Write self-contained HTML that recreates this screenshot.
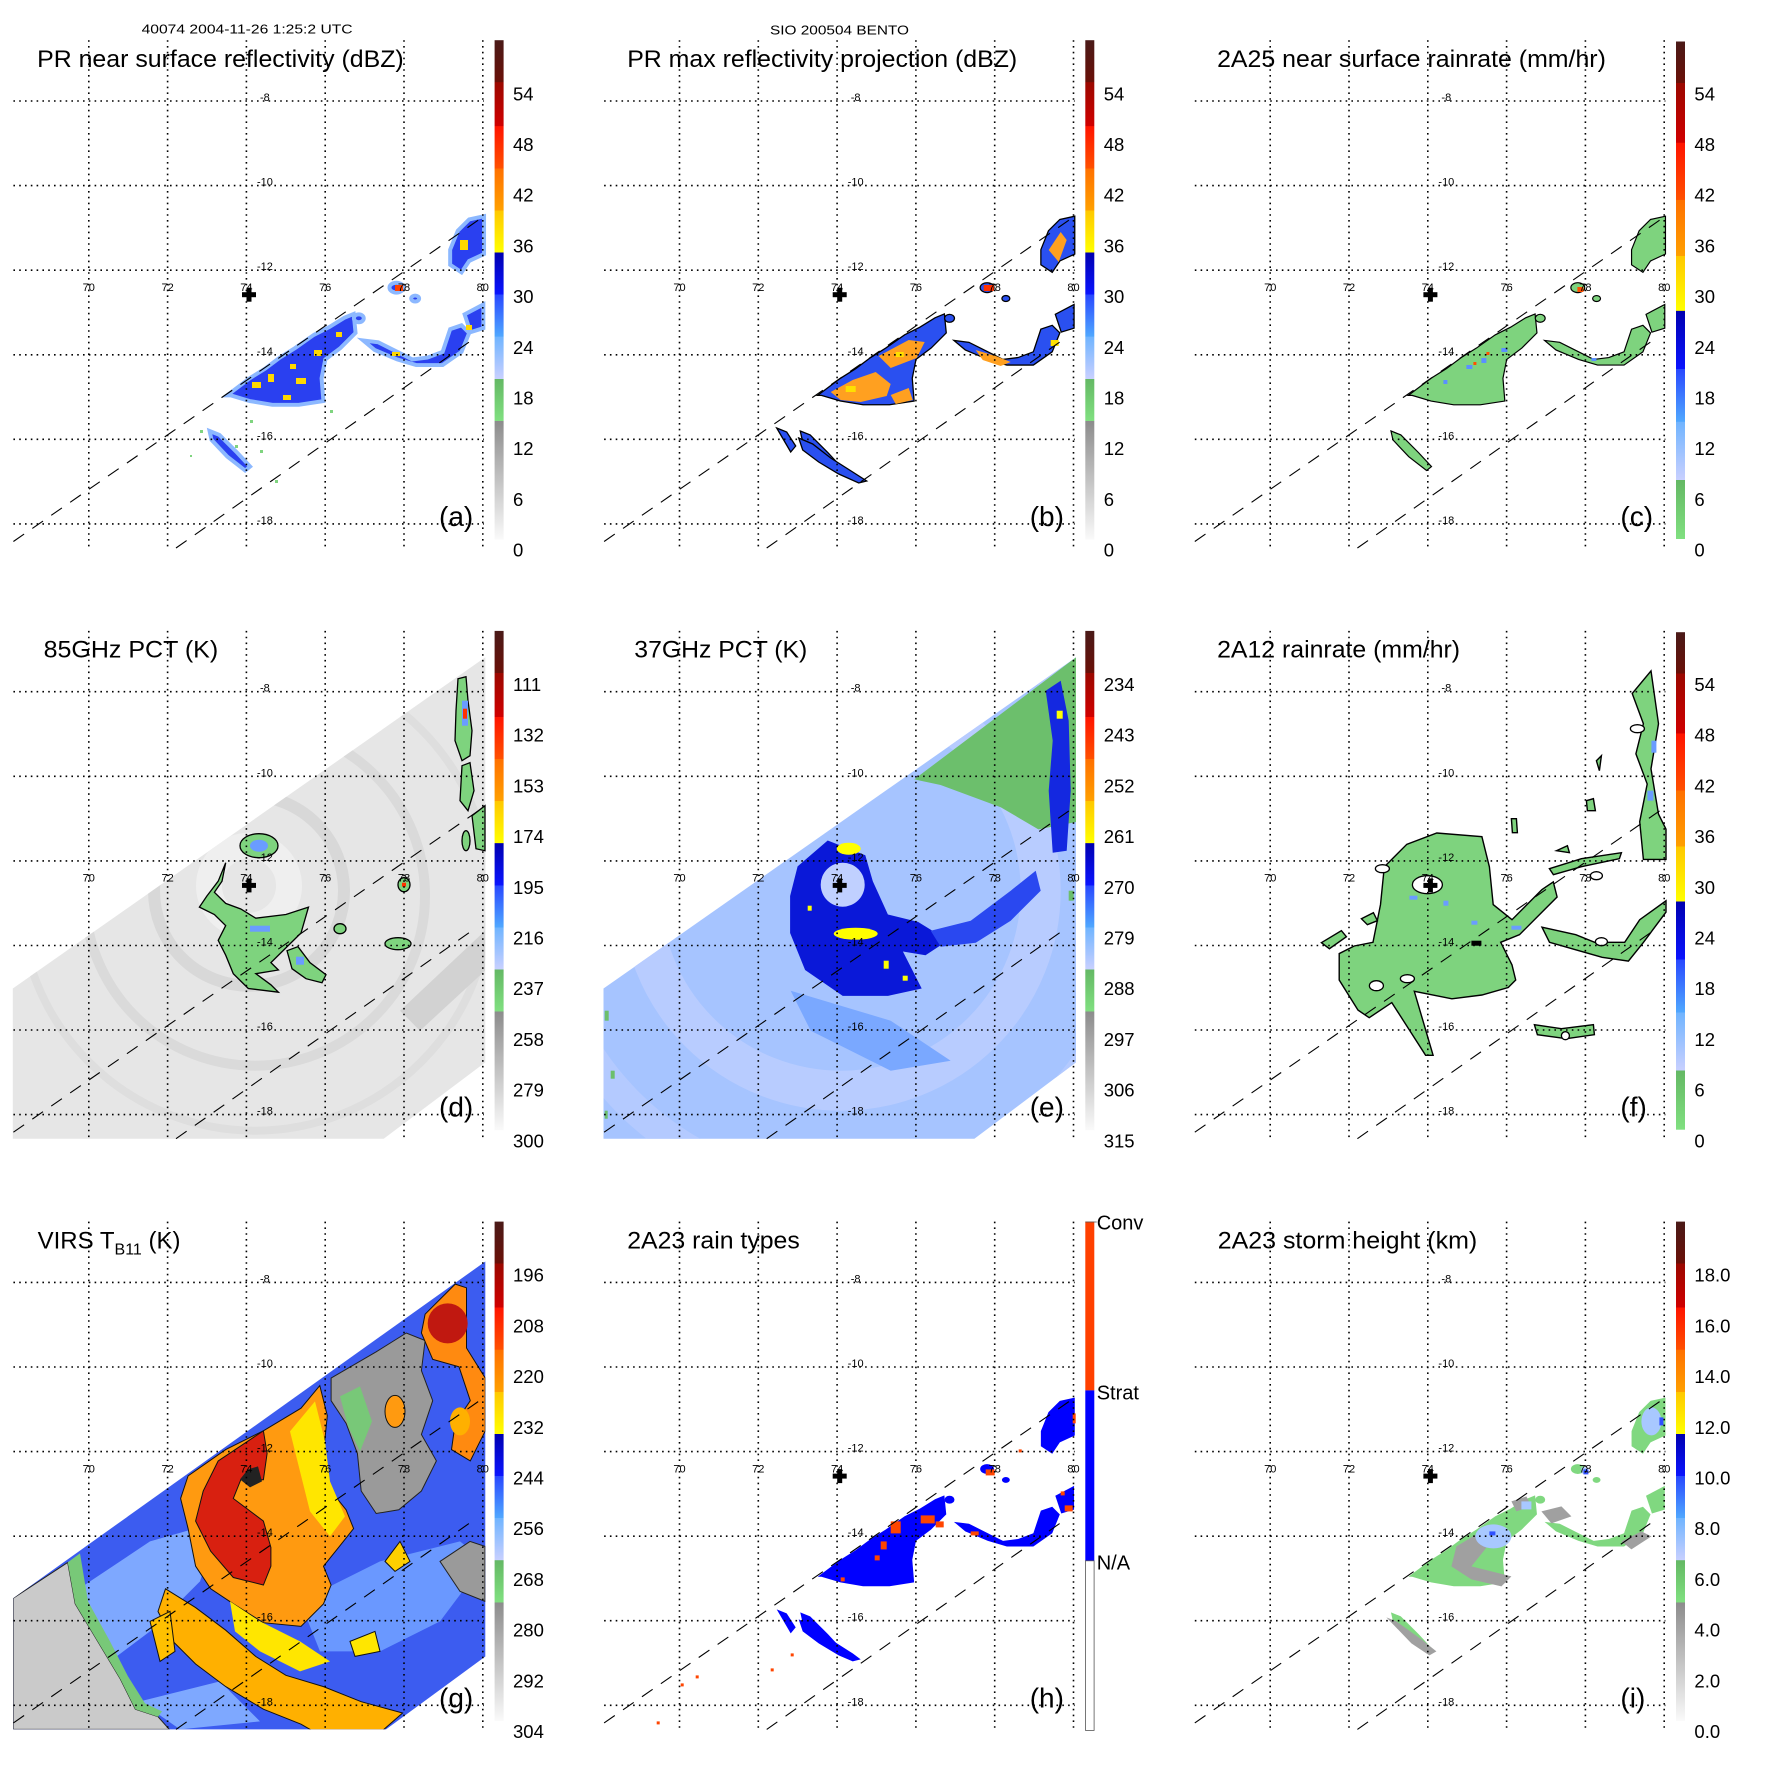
<!DOCTYPE html>
<html><head><meta charset="utf-8"><style>
html,body{margin:0;padding:0;background:#fff;}
svg{display:block;font-family:"Liberation Sans",Arial,sans-serif;}
.ll{font-size:11px;fill:#000;}
.lo{font-size:11px;fill:#000;text-anchor:middle;}
.ti{font-size:24px;fill:#000;}
.pl{font-size:28px;fill:#000;}
.cb{font-size:18.5px;fill:#000;}
</style></head><body>
<svg width="1771" height="1771" viewBox="0 0 1771 1771" xmlns="http://www.w3.org/2000/svg">
<defs>
<linearGradient id="cbA" x1="0" y1="0" x2="0" y2="1">
<stop offset="0" stop-color="#4a1a18"/><stop offset="0.084" stop-color="#6a1008"/>
<stop offset="0.0843" stop-color="#9a0800"/><stop offset="0.172" stop-color="#d00000"/>
<stop offset="0.1724" stop-color="#ff1400"/><stop offset="0.2565" stop-color="#ff5000"/>
<stop offset="0.2567" stop-color="#ff7000"/><stop offset="0.3408" stop-color="#ffa000"/>
<stop offset="0.341" stop-color="#ffc800"/><stop offset="0.425" stop-color="#ffff00"/>
<stop offset="0.4253" stop-color="#0000b0"/><stop offset="0.5093" stop-color="#0a14ff"/>
<stop offset="0.5096" stop-color="#2848ff"/><stop offset="0.5936" stop-color="#50a8ff"/>
<stop offset="0.5939" stop-color="#70b4ff"/><stop offset="0.678" stop-color="#c8d0ff"/>
<stop offset="0.6782" stop-color="#64b864"/><stop offset="0.7622" stop-color="#80e080"/>
<stop offset="0.7625" stop-color="#8c8c8c"/><stop offset="1" stop-color="#fafafa"/>
</linearGradient>
<linearGradient id="cbC" x1="0" y1="0" x2="0" y2="1">
<stop offset="0" stop-color="#4a1a18"/><stop offset="0.083" stop-color="#6a1008"/>
<stop offset="0.0834" stop-color="#9a0800"/><stop offset="0.203" stop-color="#d00000"/>
<stop offset="0.204" stop-color="#ff1400"/><stop offset="0.318" stop-color="#ff5000"/>
<stop offset="0.3186" stop-color="#ff7000"/><stop offset="0.431" stop-color="#ffa000"/>
<stop offset="0.4312" stop-color="#ffc800"/><stop offset="0.541" stop-color="#ffff00"/>
<stop offset="0.5417" stop-color="#0000b0"/><stop offset="0.658" stop-color="#0a14ff"/>
<stop offset="0.6583" stop-color="#2848ff"/><stop offset="0.764" stop-color="#50a8ff"/>
<stop offset="0.7648" stop-color="#70b4ff"/><stop offset="0.881" stop-color="#c8d0ff"/>
<stop offset="0.8814" stop-color="#64b864"/><stop offset="1" stop-color="#80e080"/>
</linearGradient>
<g id="grid" stroke="#000" stroke-width="1.6" stroke-dasharray="1.6,4.2" fill="none">
<line x1="88.8" y1="40.2" x2="88.8" y2="548"/><line x1="167.6" y1="40.2" x2="167.6" y2="548"/>
<line x1="246.4" y1="40.2" x2="246.4" y2="548"/><line x1="325.2" y1="40.2" x2="325.2" y2="548"/>
<line x1="404" y1="40.2" x2="404" y2="548"/><line x1="482.8" y1="40.2" x2="482.8" y2="548"/>
<line x1="13.4" y1="101" x2="484" y2="101"/><line x1="13.4" y1="185.6" x2="484" y2="185.6"/>
<line x1="13.4" y1="270.2" x2="484" y2="270.2"/><line x1="13.4" y1="354.8" x2="484" y2="354.8"/>
<line x1="13.4" y1="439.3" x2="484" y2="439.3"/><line x1="13.4" y1="523.9" x2="484" y2="523.9"/>
</g>
<g id="dash" stroke="#000" stroke-width="1.1" stroke-dasharray="13,10" fill="none">
<line x1="13.4" y1="541.5" x2="484" y2="216.2"/>
<line x1="176" y1="548" x2="476.5" y2="336.8"/>
</g>
<g id="cross" fill="#000"><rect x="242" y="292.2" width="14" height="5"/><rect x="246.5" y="287.7" width="5" height="14"/></g>
<g id="pr" transform="scale(0.9885)">
<path d="M229.6,400 L252.6,382.7 267.9,373.1 283.2,361.7 298.5,352.1 317.6,338.7 333,331 348.3,321.5 357.8,317.6 359.7,336.8 344.4,352.1 329.1,363.6 325.3,382.7 327.2,405.7 302.3,409.5 275.5,409.5 252.6,405.7 233.4,400 Z"/>
<path d="M367.4,344.4 L382.7,346.3 401.8,355.9 417.1,363.6 432.4,361.7 447.8,355.9 455.4,333 466.9,329.1 474.6,336.8 466.9,355.9 447.8,369.3 421,369.3 401.8,363.6 378.9,354 Z"/>
<path d="M455.4,252.6 L463.1,233.4 474.6,222 489.7,218.7 489.7,257 474.6,264 466.9,275.5 455.4,267.9 Z"/>
<path d="M470,318 L489,308 489,332 476,336 Z"/>
<ellipse cx="401" cy="291" rx="7" ry="5"/>
<ellipse cx="420" cy="302" rx="4" ry="3"/>
<ellipse cx="363" cy="322" rx="5" ry="4"/>
<path d="M212,436 L222,440 240,458 253,472 248,476 230,462 214,445 Z"/>
</g>
</defs>

<text x="141.6" y="33.7" font-size="12.8" textLength="211" lengthAdjust="spacingAndGlyphs">40074 2004-11-26 1:25:2 UTC</text>
<text x="770" y="34.7" font-size="12.8" textLength="139" lengthAdjust="spacingAndGlyphs">SIO 200504 BENTO</text>

<!-- PANEL A -->
<g transform="translate(0,0)">
<g fill="#2a40f0" stroke="#8cb8ff" stroke-width="4"><use href="#pr"/></g>
<g fill="#ffd800">
<rect x="252" y="382" width="9" height="6"/><rect x="268" y="374" width="6" height="8"/><rect x="296" y="378" width="10" height="6"/><rect x="314" y="350" width="8" height="6"/><rect x="290" y="364" width="6" height="5"/><rect x="336" y="332" width="6" height="5"/><rect x="283" y="395" width="8" height="5"/><rect x="460" y="240" width="8" height="10"/><rect x="392" y="352" width="8" height="4"/><rect x="466" y="325" width="6" height="5"/>
</g>
<rect x="395" y="285" width="8" height="6" fill="#ff4000"/>
<g fill="#7fd47f"><rect x="200" y="430" width="3" height="3"/><rect x="235" y="445" width="3" height="3"/><rect x="260" y="450" width="3" height="3"/><rect x="190" y="455" width="2" height="2"/><rect x="275" y="480" width="3" height="3"/><rect x="250" y="420" width="3" height="3"/><rect x="330" y="410" width="3" height="3"/></g>
<use href="#grid"/><use href="#dash"/><use href="#cross"/>
</g>

<!-- PANEL B -->
<g transform="translate(590.7,0)">
<g fill="#2a50f0" stroke="#000" stroke-width="1.3"><use href="#pr"/>
<path d="M186,428 L196,432 205,446 200,452 Z"/>
<path d="M208,438 L222,444 240,458 262,472 276,481 268,483 248,474 228,462 212,450 Z"/></g>
<g fill="#ffa020">
<path d="M240,392 L262,380 285,372 300,384 296,396 270,402 250,400 Z"/>
<path d="M288,356 L318,340 334,342 326,358 300,368 Z"/>
<path d="M385,350 L405,356 420,362 410,366 392,360 Z"/>
<path d="M458,250 L470,232 476,240 468,262 Z"/>
<path d="M300,395 L318,388 322,400 305,404 Z"/>
</g>
<g fill="#ffe000"><rect x="255" y="386" width="10" height="6"/><rect x="305" y="352" width="8" height="5"/><rect x="460" y="340" width="8" height="6"/></g>
<rect x="393" y="285" width="10" height="6" fill="#ff3000"/>
<use href="#grid"/><use href="#dash"/><use href="#cross"/>
</g>

<!-- PANEL C -->
<g transform="translate(1181.4,0)">
<g fill="#7ed37e" stroke="#000" stroke-width="1.2"><use href="#pr"/></g>
<g fill="#5a90ff"><rect x="285" y="365" width="6" height="4"/><rect x="300" y="358" width="5" height="5"/><rect x="320" y="348" width="6" height="4"/><rect x="410" y="358" width="5" height="3"/><rect x="262" y="380" width="4" height="4"/></g>
<g fill="#ff5000"><rect x="292" y="362" width="3" height="3"/><rect x="396" y="287" width="6" height="5"/><rect x="305" y="352" width="3" height="3"/></g>
<use href="#grid"/><use href="#dash"/><use href="#cross"/>
</g>

<!-- PANEL D -->
<g transform="translate(0,590.7)">
<clipPath id="swd"><polygon points="12.8,397.8 485.3,66.6 485.3,471.7 383.7,548 12.8,548"/></clipPath>
<polygon points="12.8,397.8 485.3,66.6 485.3,471.7 383.7,548 12.8,548" fill="#e6e6e6"/>
<g clip-path="url(#swd)" fill="none">
<circle cx="249" cy="295" r="40" stroke="#efefef" stroke-width="26"/>
<circle cx="249" cy="300" r="95" stroke="#d8d8d8" stroke-width="12"/>
<circle cx="255" cy="305" r="170" stroke="#dadada" stroke-width="10"/>
<circle cx="255" cy="305" r="235" stroke="#dedede" stroke-width="8"/>
<path d="M400,420 L485,340 485,380 420,440 Z" fill="#d2d2d2"/>
</g>
<g fill="#7ed37e" stroke="#000" stroke-width="1.3">
<path d="M225.7,272 L218.2,290.5 206.9,305.3 199.4,316.4 214.4,323.8 225.7,334.9 218.2,349.7 225.7,364.5 233.3,383 248.3,397.8 278.4,401.5 270.9,394.1 255.8,383 278.4,379.3 270.9,371.9 301,342.3 308.5,316.4 285.9,323.8 255.8,327.5 240.8,318.3 225.7,312.7 214.4,301.6 222,290.5 Z"/>
<ellipse cx="259" cy="255" rx="19" ry="12"/>
<path d="M287,360 L298,356 310,372 326,384 322,392 306,388 292,378 Z"/>
<ellipse cx="398" cy="353" rx="13" ry="6"/>
<ellipse cx="340" cy="338" rx="6" ry="5"/>
<path d="M458,88 L466,86 468,110 472,140 470,165 462,170 455,150 456,120 Z"/>
<path d="M462,175 L470,172 474,200 468,220 460,210 Z"/>
<path d="M472,225 L485,215 485,260 476,258 Z"/>
<ellipse cx="404" cy="294" rx="6" ry="7"/>
<ellipse cx="466" cy="250" rx="4" ry="10"/>
</g>
<g fill="#6a9cff"><ellipse cx="259" cy="255" rx="9" ry="6"/><rect x="250" y="335" width="20" height="6"/><rect x="462" y="110" width="6" height="25"/><rect x="296" y="366" width="8" height="8"/></g>
<g fill="#ff3000"><rect x="463" y="118" width="4" height="10"/><rect x="402" y="292" width="4" height="4"/></g>
<use href="#grid"/><use href="#dash"/><use href="#cross"/>
</g>

<!-- PANEL E -->
<g transform="translate(590.7,590.7)">
<clipPath id="swe"><polygon points="12.8,397.8 485.3,66.6 485.3,471.7 383.7,548 12.8,548"/></clipPath>
<polygon points="12.8,397.8 485.3,66.6 485.3,471.7 383.7,548 12.8,548" fill="#a6c4ff"/>
<g clip-path="url(#swe)">
<circle cx="250" cy="300" r="200" fill="none" stroke="#b8ccff" stroke-width="40"/>
<circle cx="250" cy="300" r="300" fill="none" stroke="#b4caff" stroke-width="30"/>
<path d="M323.5,188.7 L485.3,66.6 485.3,231.3 447.7,238.7 410,216.5 349.9,194.3 Z" fill="#6cbf6c"/>
<path d="M206.9,275.7 L237,249.8 274.6,264.6 282.1,290.5 297.2,323.8 327.3,331.2 357.4,349.7 334.8,364.5 312.2,360.8 331,397.8 297.2,405.2 252,405.2 214.4,379.3 199.4,342.3 199.4,305.3 Z" fill="#0a18d8"/>
<circle cx="252" cy="294" r="22" fill="#c0d0ff"/>
<path d="M455,100 L470,90 478,130 480,200 476,260 462,262 458,200 462,150 Z" fill="#1428e0"/>
<path d="M340,340 L380,330 420,300 445,280 450,300 420,330 385,352 350,356 Z" fill="#2a48f0"/>
<path d="M200,400 L300,430 360,470 300,480 220,440 Z" fill="#7aa8ff"/>
</g>
<g fill="#ffff00"><ellipse cx="265" cy="343" rx="22" ry="6"/><ellipse cx="258" cy="258" rx="12" ry="6"/><rect x="466" y="120" width="6" height="8"/><rect x="293" y="370" width="5" height="8"/><rect x="312" y="385" width="5" height="5"/><rect x="217" y="315" width="4" height="5"/></g>
<g fill="#6cbf6c"><rect x="14" y="420" width="4" height="10"/><rect x="20" y="480" width="4" height="8"/><rect x="14" y="520" width="3" height="8"/><rect x="478" y="300" width="5" height="10"/></g>
<use href="#grid"/><use href="#dash"/><use href="#cross"/>
</g>

<!-- PANEL F -->
<g transform="translate(1181.4,590.7)">
<g fill="#7ed37e" stroke="#000" stroke-width="1.4">
<path d="M202.9,276.2 L225.4,253.6 255.4,242.3 300.5,246 308,276.2 311.8,313.9 330.6,329 360.6,298.8 371.9,291.2 375.7,306.3 360.6,321.4 338.1,344 319.3,351.6 330.6,374.2 334.3,389.3 326.8,396.8 300.5,404.3 270.5,408.1 232.9,400.6 251.7,464.6 244.2,464.6 210.4,411.9 187.8,427 176.6,419.4 157.8,389.3 157.8,362.9 172.8,355.3 191.6,351.6 199.1,313.9 Z"/>
<path d="M360.6,336.5 L394.4,344 413.2,351.6 443.3,351.6 458.3,329 484.6,310.1 484.6,321.4 462.1,351.6 447,370.4 420.7,366.6 394.4,359.1 368.1,351.6 Z"/>
<path d="M469.6,80.2 L477.1,133 469.6,178.2 477.1,223.4 484.6,238.5 484.6,268.7 462,268.7 458.3,231 465.8,193.3 454.5,163.1 462,133 450.8,102.8 Z"/>
<path d="M368,278 L400,268 440,262 438,268 400,276 372,284 Z"/>
<path d="M353,434 L380,438 412,434 413,444 385,448 356,444 Z"/>
<path d="M140,352 L160,340 165,346 148,358 Z"/>
<path d="M180,328 L192,322 196,330 186,334 Z"/>
<path d="M375,260 L386,255 388,262 Z"/>
<path d="M330,228 L335,228 336,242 331,242 Z"/>
<path d="M405,210 L412,208 414,220 406,220 Z"/>
<path d="M415,170 L420,165 418,180 Z"/>
</g>
<g fill="#fff" stroke="#000" stroke-width="1.3">
<ellipse cx="246" cy="294" rx="15" ry="9"/>
<ellipse cx="195" cy="395" rx="7" ry="5"/>
<ellipse cx="226" cy="388" rx="7" ry="4"/>
<ellipse cx="420" cy="351" rx="6" ry="4"/>
<ellipse cx="201" cy="278" rx="7" ry="4"/>
<ellipse cx="456" cy="138" rx="7" ry="4"/>
<ellipse cx="415" cy="285" rx="6" ry="4"/>
<ellipse cx="384" cy="445" rx="4" ry="4"/>
</g>
<g fill="#6a9cff"><rect x="228" y="305" width="8" height="4"/><rect x="262" y="310" width="5" height="5"/><rect x="290" y="330" width="6" height="4"/><rect x="330" y="335" width="10" height="4"/><rect x="470" y="150" width="5" height="12"/><rect x="466" y="200" width="6" height="10"/></g>
<rect x="290" y="350" width="10" height="5" fill="#000"/>
<use href="#grid"/><use href="#dash"/><use href="#cross"/>
</g>

<!-- PANEL G -->
<g transform="translate(0,1181.4)">
<clipPath id="swg"><polygon points="13.2,416.8 485.3,80.1 485.3,475.1 386,548 13.2,548"/></clipPath>
<polygon points="13.2,416.8 485.3,80.1 485.3,475.1 386,548 13.2,548" fill="#3c5cf0"/>
<g clip-path="url(#swg)">
<path d="M60,420 L150,360 220,340 200,400 150,450 110,480 80,440 Z" fill="#7ea8ff"/>
<path d="M300,420 L380,380 460,360 485,380 440,440 380,470 320,470 Z" fill="#6a98ff"/>
<path d="M140,520 L220,500 260,540 180,548 Z" fill="#7ea8ff"/>
<path d="M13.2,416.8 L67.7,381 75.2,422.4 97.8,460.1 120.4,497.7 135.4,527.8 158,535.3 169.3,548 13.2,548 Z" fill="#cacaca" stroke="#222" stroke-width="1"/>
<path d="M67.7,381 L80,372 88,420 110,460 128,495 145,522 162,530 158,535.3 135.4,527.8 120.4,497.7 97.8,460.1 75.2,422.4 Z" fill="#78c878"/>
<path d="M331.1,196.7 L376.2,170.4 406.3,151.6 425.1,159.1 421.4,189.2 432.7,219.3 421.4,253.1 436.4,279.5 421.4,309.6 398.8,328.4 376.2,332.1 361.2,309.6 357.4,272 346.1,241.9 331.1,219.3 Z" fill="#9a9a9a" stroke="#222" stroke-width="1"/>
<path d="M340,215 L360,205 372,240 360,270 348,245 Z" fill="#78c878"/>
<path d="M440,380 L470,360 485,365 485,420 460,410 Z" fill="#9a9a9a" stroke="#222" stroke-width="1"/>
<path d="M188.1,294.5 L225.7,268.2 263.4,249.4 301,226.8 319.8,204.2 327.3,234.3 323.5,272 331.1,309.6 346.1,328.4 353.6,347.2 338.6,366 323.5,384.8 331.1,403.6 323.5,422.4 301,445 263.4,441.3 233.3,422.4 210.7,407.4 195.6,384.8 188.1,347.2 180.6,317.1 Z" fill="#ff9a10" stroke="#111" stroke-width="1"/>
<path d="M165.5,407.4 L195.6,426.2 225.7,448.8 255.8,475.1 285.9,493.9 323.5,505.2 361.2,520.3 402.6,531.6 372.5,557.9 327.3,557.9 301,542.8 263.4,527.8 225.7,505.2 195.6,482.6 173.1,460.1 158,430 Z" fill="#ffb000" stroke="#111" stroke-width="1"/>
<path d="M230,420 L260,440 300,460 330,480 300,490 260,470 235,450 Z" fill="#ffe600"/>
<path d="M290,250 L315,220 325,260 330,300 345,335 330,355 310,330 300,290 Z" fill="#ffe600"/>
<path d="M218.2,279.5 L263.4,249.4 267.1,272 263.4,298.3 240.8,298.3 233.3,317.1 263.4,339.7 270.9,366 270.9,384.8 263.4,403.6 233.3,396.1 210.7,369.8 195.6,339.7 203.2,309.6 Z" fill="#d82010" stroke="#111" stroke-width="1"/>
<path d="M425.1,132.8 L455.2,102.7 466.5,106.4 466.5,166.6 485.3,196.7 485.3,249.4 470.3,279.5 451.5,268.2 455.2,241.9 470.3,219.3 459,185.4 432.7,177.9 421.4,151.6 Z" fill="#ff8a10" stroke="#111" stroke-width="1"/>
<ellipse cx="447.7" cy="142" rx="20" ry="20" fill="#c01810"/>
<ellipse cx="395" cy="230" rx="10" ry="16" fill="#ff9a10" stroke="#111" stroke-width="1"/>
<ellipse cx="460" cy="240" rx="10" ry="14" fill="#ffb000"/>
<path d="M248,288 L258,285 262,300 250,306 240,298 Z" fill="#222"/>
<path d="M350,460 L375,450 380,470 355,475 Z" fill="#ffe600" stroke="#111" stroke-width="1"/>
<path d="M385,380 L400,360 410,380 395,390 Z" fill="#ffd000" stroke="#111" stroke-width="1"/>
<path d="M150,440 L170,430 175,470 160,480 Z" fill="#ffc000" stroke="#111" stroke-width="1"/>
</g>
<use href="#grid"/><use href="#dash"/>
</g>

<!-- PANEL H -->
<g transform="translate(590.7,1181.4)">
<g fill="#0000ff"><use href="#pr"/>
<path d="M186,428 L196,432 205,446 200,452 Z"/>
<path d="M208,438 L222,444 240,458 262,472 270,478 262,480 248,474 228,462 212,450 Z"/></g>
<g fill="#ff4500">
<rect x="300" y="340" width="10" height="12"/><rect x="290" y="360" width="6" height="8"/><rect x="330" y="334" width="14" height="8"/><rect x="345" y="340" width="8" height="6"/><rect x="250" y="396" width="4" height="4"/><rect x="284" y="374" width="5" height="5"/><rect x="395" y="288" width="9" height="6"/><rect x="380" y="350" width="8" height="4"/><rect x="474" y="324" width="8" height="6"/><rect x="470" y="310" width="4" height="4"/><rect x="428" y="268" width="3" height="3"/><rect x="105" y="494" width="3" height="3"/><rect x="90" y="502" width="3" height="3"/><rect x="66" y="540" width="3" height="3"/><rect x="180" y="487" width="3" height="3"/><rect x="200" y="472" width="3" height="3"/><rect x="482" y="232" width="3" height="10"/>
</g>
<use href="#grid"/><use href="#dash"/><use href="#cross"/>
</g>

<!-- PANEL I -->
<g transform="translate(1181.4,1181.4)">
<g fill="#80d880"><use href="#pr"/></g>
<g fill="#a0a0a0">
<path d="M275,365 L300,350 310,360 290,385 330,395 320,405 290,398 270,385 Z"/>
<path d="M360,330 L380,325 390,335 370,342 Z"/>
<path d="M440,360 L460,350 470,355 450,368 Z"/>
<path d="M205,436 L215,440 240,458 255,470 248,474 230,462 Z"/>
<path d="M330,320 L345,315 350,325 335,330 Z"/>
</g>
<g fill="#a8c8ff"><ellipse cx="312" cy="355" rx="18" ry="12"/><ellipse cx="470" cy="240" rx="10" ry="14"/><rect x="340" y="320" width="10" height="8"/><rect x="400" y="286" width="6" height="6"/></g>
<g fill="#3050ff"><rect x="308" y="350" width="6" height="4"/><rect x="402" y="288" width="5" height="5"/><rect x="478" y="236" width="4" height="8"/></g>
<use href="#grid"/><use href="#dash"/><use href="#cross"/>
</g>

<!-- LABELS -->
<g transform="translate(0,0)">
<text class="ti" x="37.1" y="67" textLength="366.6" lengthAdjust="spacingAndGlyphs">PR near surface reflectivity (dBZ)</text>
<text class="pl" x="439" y="526">(a)</text>
<rect x="494.6" y="40.2" width="9" height="499.4" fill="url(#cbA)"/>
<g class="cb"><text x="513" y="100.3">54</text><text x="513" y="151">48</text><text x="513" y="201.7">42</text><text x="513" y="252.4">36</text><text x="513" y="303.1">30</text><text x="513" y="353.8">24</text><text x="513" y="404.5">18</text><text x="513" y="455.2">12</text><text x="513" y="505.9">6</text><text x="513" y="556.6">0</text></g>
<g class="ll"><text x="260" y="101">-8</text><text x="257" y="185.6">-10</text><text x="257" y="270.2">-12</text><text x="257" y="354.8">-14</text><text x="257" y="439.3">-16</text><text x="257" y="523.9">-18</text></g>
<g class="lo"><text x="88.8" y="291">70</text><text x="167.6" y="291">72</text><text x="246.4" y="291">74</text><text x="325.2" y="291">76</text><text x="404" y="291">78</text><text x="482.8" y="291">80</text></g>
</g>

<g transform="translate(590.7,0)">
<text class="ti" x="36.5" y="67" textLength="390" lengthAdjust="spacingAndGlyphs">PR max reflectivity projection (dBZ)</text>
<text class="pl" x="439" y="526">(b)</text>
<rect x="494.6" y="40.2" width="9" height="499.4" fill="url(#cbA)"/>
<g class="cb"><text x="513" y="100.3">54</text><text x="513" y="151">48</text><text x="513" y="201.7">42</text><text x="513" y="252.4">36</text><text x="513" y="303.1">30</text><text x="513" y="353.8">24</text><text x="513" y="404.5">18</text><text x="513" y="455.2">12</text><text x="513" y="505.9">6</text><text x="513" y="556.6">0</text></g>
<g class="ll"><text x="260" y="101">-8</text><text x="257" y="185.6">-10</text><text x="257" y="270.2">-12</text><text x="257" y="354.8">-14</text><text x="257" y="439.3">-16</text><text x="257" y="523.9">-18</text></g>
<g class="lo"><text x="88.8" y="291">70</text><text x="167.6" y="291">72</text><text x="246.4" y="291">74</text><text x="325.2" y="291">76</text><text x="404" y="291">78</text><text x="482.8" y="291">80</text></g>
</g>

<g transform="translate(1181.4,0)">
<text class="ti" x="35.7" y="67" textLength="388.8" lengthAdjust="spacingAndGlyphs">2A25 near surface rainrate (mm/hr)</text>
<text class="pl" x="439" y="526">(c)</text>
<rect x="494.6" y="41.5" width="9" height="497.5" fill="url(#cbC)"/>
<g class="cb"><text x="513" y="100.3">54</text><text x="513" y="151">48</text><text x="513" y="201.7">42</text><text x="513" y="252.4">36</text><text x="513" y="303.1">30</text><text x="513" y="353.8">24</text><text x="513" y="404.5">18</text><text x="513" y="455.2">12</text><text x="513" y="505.9">6</text><text x="513" y="556.6">0</text></g>
<g class="ll"><text x="260" y="101">-8</text><text x="257" y="185.6">-10</text><text x="257" y="270.2">-12</text><text x="257" y="354.8">-14</text><text x="257" y="439.3">-16</text><text x="257" y="523.9">-18</text></g>
<g class="lo"><text x="88.8" y="291">70</text><text x="167.6" y="291">72</text><text x="246.4" y="291">74</text><text x="325.2" y="291">76</text><text x="404" y="291">78</text><text x="482.8" y="291">80</text></g>
</g>

<g transform="translate(0,590.7)">
<text class="ti" x="43.6" y="67" textLength="174.6" lengthAdjust="spacingAndGlyphs">85GHz PCT (K)</text>
<text class="pl" x="439" y="526">(d)</text>
<rect x="494.6" y="40.2" width="9" height="499.4" fill="url(#cbA)"/>
<g class="cb"><text x="513" y="100.3">111</text><text x="513" y="151">132</text><text x="513" y="201.7">153</text><text x="513" y="252.4">174</text><text x="513" y="303.1">195</text><text x="513" y="353.8">216</text><text x="513" y="404.5">237</text><text x="513" y="455.2">258</text><text x="513" y="505.9">279</text><text x="513" y="556.6">300</text></g>
<g class="ll"><text x="260" y="101">-8</text><text x="257" y="185.6">-10</text><text x="257" y="270.2">-12</text><text x="257" y="354.8">-14</text><text x="257" y="439.3">-16</text><text x="257" y="523.9">-18</text></g>
<g class="lo"><text x="88.8" y="291">70</text><text x="167.6" y="291">72</text><text x="246.4" y="291">74</text><text x="325.2" y="291">76</text><text x="404" y="291">78</text><text x="482.8" y="291">80</text></g>
</g>

<g transform="translate(590.7,590.7)">
<text class="ti" x="43.6" y="67" textLength="173" lengthAdjust="spacingAndGlyphs">37GHz PCT (K)</text>
<text class="pl" x="439" y="526">(e)</text>
<rect x="494.6" y="40.2" width="9" height="499.4" fill="url(#cbA)"/>
<g class="cb"><text x="513" y="100.3">234</text><text x="513" y="151">243</text><text x="513" y="201.7">252</text><text x="513" y="252.4">261</text><text x="513" y="303.1">270</text><text x="513" y="353.8">279</text><text x="513" y="404.5">288</text><text x="513" y="455.2">297</text><text x="513" y="505.9">306</text><text x="513" y="556.6">315</text></g>
<g class="ll"><text x="260" y="101">-8</text><text x="257" y="185.6">-10</text><text x="257" y="270.2">-12</text><text x="257" y="354.8">-14</text><text x="257" y="439.3">-16</text><text x="257" y="523.9">-18</text></g>
<g class="lo"><text x="88.8" y="291">70</text><text x="167.6" y="291">72</text><text x="246.4" y="291">74</text><text x="325.2" y="291">76</text><text x="404" y="291">78</text><text x="482.8" y="291">80</text></g>
</g>

<g transform="translate(1181.4,590.7)">
<text class="ti" x="35.7" y="67" textLength="243" lengthAdjust="spacingAndGlyphs">2A12 rainrate (mm/hr)</text>
<text class="pl" x="439" y="526">(f)</text>
<rect x="494.6" y="41.5" width="9" height="497.5" fill="url(#cbC)"/>
<g class="cb"><text x="513" y="100.3">54</text><text x="513" y="151">48</text><text x="513" y="201.7">42</text><text x="513" y="252.4">36</text><text x="513" y="303.1">30</text><text x="513" y="353.8">24</text><text x="513" y="404.5">18</text><text x="513" y="455.2">12</text><text x="513" y="505.9">6</text><text x="513" y="556.6">0</text></g>
<g class="ll"><text x="260" y="101">-8</text><text x="257" y="185.6">-10</text><text x="257" y="270.2">-12</text><text x="257" y="354.8">-14</text><text x="257" y="439.3">-16</text><text x="257" y="523.9">-18</text></g>
<g class="lo"><text x="88.8" y="291">70</text><text x="167.6" y="291">72</text><text x="246.4" y="291">74</text><text x="325.2" y="291">76</text><text x="404" y="291">78</text><text x="482.8" y="291">80</text></g>
</g>

<g transform="translate(0,1181.4)">
<text class="ti" x="37.6" y="67">VIRS T<tspan font-size="16" dy="6">B11</tspan><tspan dy="-6"> (K)</tspan></text>
<text class="pl" x="439" y="526">(g)</text>
<rect x="494.6" y="40.2" width="9" height="499.4" fill="url(#cbA)"/>
<g class="cb"><text x="513" y="100.3">196</text><text x="513" y="151">208</text><text x="513" y="201.7">220</text><text x="513" y="252.4">232</text><text x="513" y="303.1">244</text><text x="513" y="353.8">256</text><text x="513" y="404.5">268</text><text x="513" y="455.2">280</text><text x="513" y="505.9">292</text><text x="513" y="556.6">304</text></g>
<g class="ll"><text x="260" y="101">-8</text><text x="257" y="185.6">-10</text><text x="257" y="270.2">-12</text><text x="257" y="354.8">-14</text><text x="257" y="439.3">-16</text><text x="257" y="523.9">-18</text></g>
<g class="lo"><text x="88.8" y="291">70</text><text x="167.6" y="291">72</text><text x="246.4" y="291">74</text><text x="325.2" y="291">76</text><text x="404" y="291">78</text><text x="482.8" y="291">80</text></g>
</g>

<g transform="translate(590.7,1181.4)">
<text class="ti" x="36.5" y="67" textLength="172.6" lengthAdjust="spacingAndGlyphs">2A23 rain types</text>
<text class="pl" x="439" y="526">(h)</text>
<rect x="494.6" y="40.2" width="9" height="168.8" fill="#ff4000"/>
<rect x="494.6" y="209" width="9" height="170.4" fill="#0000ff"/>
<rect x="494.8" y="379.4" width="8.6" height="169.6" fill="#fff" stroke="#555" stroke-width="0.8"/>
<line x1="494.6" y1="40.6" x2="506" y2="40.6" stroke="#555" stroke-width="0.8"/>
<g font-size="20"><text x="506" y="48">Conv</text><text x="506" y="218">Strat</text><text x="506" y="388">N/A</text></g>
<g class="ll"><text x="260" y="101">-8</text><text x="257" y="185.6">-10</text><text x="257" y="270.2">-12</text><text x="257" y="354.8">-14</text><text x="257" y="439.3">-16</text><text x="257" y="523.9">-18</text></g>
<g class="lo"><text x="88.8" y="291">70</text><text x="167.6" y="291">72</text><text x="246.4" y="291">74</text><text x="325.2" y="291">76</text><text x="404" y="291">78</text><text x="482.8" y="291">80</text></g>
</g>

<g transform="translate(1181.4,1181.4)">
<text class="ti" x="36.3" y="67" textLength="259.5" lengthAdjust="spacingAndGlyphs">2A23 storm height (km)</text>
<text class="pl" x="439" y="526">(i)</text>
<rect x="494.6" y="40.2" width="9" height="499.4" fill="url(#cbA)"/>
<g class="cb"><text x="513" y="100.3">18.0</text><text x="513" y="151">16.0</text><text x="513" y="201.7">14.0</text><text x="513" y="252.4">12.0</text><text x="513" y="303.1">10.0</text><text x="513" y="353.8">8.0</text><text x="513" y="404.5">6.0</text><text x="513" y="455.2">4.0</text><text x="513" y="505.9">2.0</text><text x="513" y="556.6">0.0</text></g>
<g class="ll"><text x="260" y="101">-8</text><text x="257" y="185.6">-10</text><text x="257" y="270.2">-12</text><text x="257" y="354.8">-14</text><text x="257" y="439.3">-16</text><text x="257" y="523.9">-18</text></g>
<g class="lo"><text x="88.8" y="291">70</text><text x="167.6" y="291">72</text><text x="246.4" y="291">74</text><text x="325.2" y="291">76</text><text x="404" y="291">78</text><text x="482.8" y="291">80</text></g>
</g>
</svg>
</body></html>
